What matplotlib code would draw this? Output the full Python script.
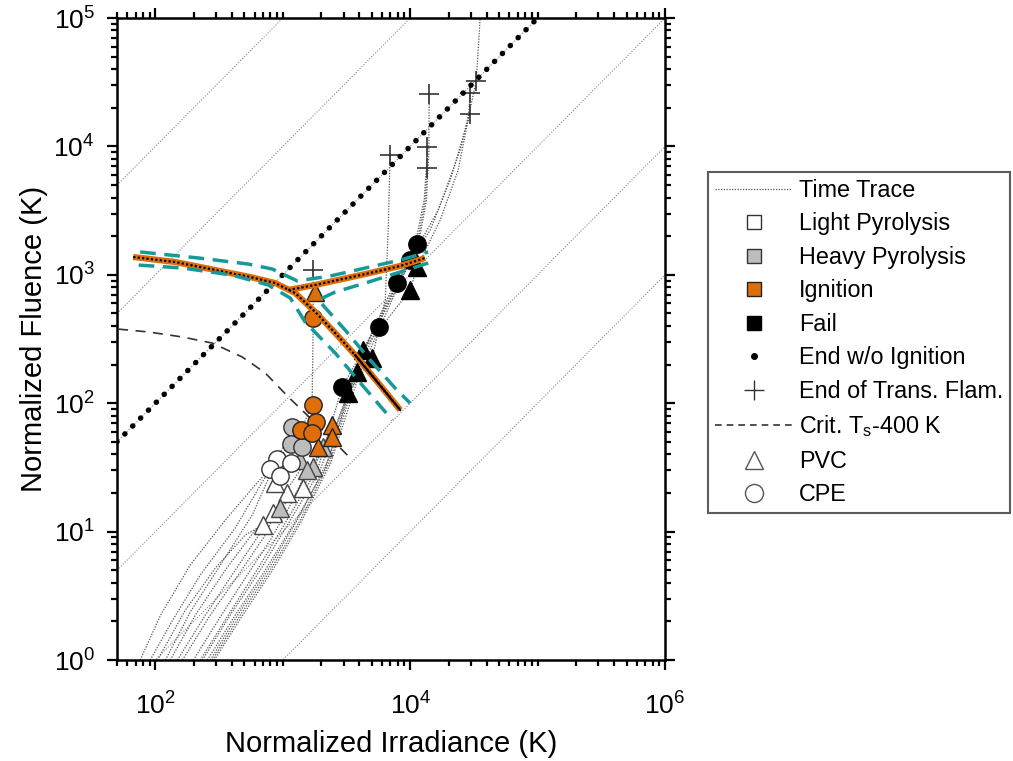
import numpy as np
import matplotlib
matplotlib.use('Agg')
import matplotlib.pyplot as plt
from matplotlib.lines import Line2D
from matplotlib.ticker import LogLocator, NullFormatter

plt.rcParams['font.family'] = ['Liberation Sans', 'DejaVu Sans']
plt.rcParams['mathtext.fontset'] = 'custom'
plt.rcParams['mathtext.rm'] = 'Liberation Sans'
plt.rcParams['mathtext.it'] = 'Liberation Sans:italic'

# colours
c_ign = '#DF6E0A'
c_heavy = '#BDBDBD'
c_teal = '#16999A'
c_trace = '#555555'

# constant-time guide lines (fluence = irradiance * t)
time_consts = [100, 10, 1, 0.1, 0.01, 0.001]
guide_x = [50, 1e6]

# time traces (irradiance, fluence)
traces = [
    ([104, 172, 296, 508, 703], [1, 2.45, 5.21, 9.42, 11.3]),
    ([131, 206, 354, 608, 841, 1084], [1, 2.24, 5.02, 10.3, 14.2, 20]),
    ([149, 247, 424, 691, 955, 1449, 2078, 2444], [1, 2.24, 5.02, 10.3, 15.3, 22, 46, 68]),
    ([163, 270, 464, 729, 1009, 1371, 1733, 2444], [1, 2.24, 4.84, 9.42, 19.3, 30.2, 32, 55]),
    ([199, 312, 508, 798, 1146, 1557, 2358, 3266, 4276, 7900, 10000, 16590, 24700, 30600, 33000, 35400],
     [1, 2.05, 4.36, 8.61, 16.1, 30.2, 51.7, 120, 259, 863, 1300, 3200, 9380, 23000, 32300, 1e5]),
    ([76, 110, 188, 354, 608, 798, 1146, 1390, 1700, 1733, 1733],
     [1, 2.24, 5.5, 12.3, 23.1, 31, 48, 62, 97, 461, 1090]),
    ([120, 188, 335, 577, 906, 1190], [1, 2.37, 5.8, 13.5, 37, 65]),
    ([91, 137, 225, 424, 798], [1, 2.05, 4.59, 10.7, 31]),
    ([234, 387, 666, 1146, 1967, 3266, 5035, 5710, 6370, 6720, 6960],
     [1, 2.24, 5.02, 12.3, 30.2, 120, 225, 392, 637, 2230, 8570]),
    ([280, 464, 798, 1371, 2358, 3841, 7900, 11350, 13120, 13600],
     [1, 2.24, 5.02, 12.3, 36.1, 175, 863, 1740, 3830, 6800]),
    ([270, 450, 780, 1330, 2300, 3700, 7600, 11000, 12900, 13400, 13600],
     [1, 2.3, 5.2, 12.8, 37, 180, 880, 1760, 3900, 7000, 9900]),
    ([290, 480, 820, 1400, 2400, 4000, 8200, 11600, 13400, 14000, 14100],
     [1, 2.2, 4.9, 12, 35, 170, 850, 1720, 3800, 9000, 25600]),
    ([256, 424, 729, 1253, 2154, 4276, 10000, 11350, 17200, 23800, 28500, 29600],
     [1, 2.24, 5.02, 12.0, 31, 259, 762, 1150, 2670, 6540, 16100, 26000]),
    ([225, 374, 643, 1104, 1897, 2929, 5820, 10000, 14350, 20600, 27000, 29600],
     [1, 2.24, 5.21, 12.8, 31.5, 134, 444, 1280, 2230, 5470, 13400, 17900]),
]

# markers: (irradiance, fluence)
pvc_light_x = [1084, 1449, 873, 841, 703]
pvc_light_y = [20, 22, 24, 14, 11.3]
pvc_heavy_x = [2078, 1733, 1371, 955, 1557]
pvc_heavy_y = [46, 32, 36, 15.3, 30]
pvc_ign_x = [1800, 2444, 2444, 1900]
pvc_ign_y = [735, 68, 55, 46]
pvc_fail_x = [11350, 10000, 4276, 5035, 3841, 3266]
pvc_fail_y = [1150, 762, 259, 225, 175, 120]

cpe_light_x = [906, 1170, 798, 955]
cpe_light_y = [37, 34, 31, 27]
cpe_heavy_x = [1190, 1150, 1420]
cpe_heavy_y = [65, 48, 46]
cpe_ign_x = [1730, 1730, 1830, 1400, 1700]
cpe_ign_y = [461, 97, 71, 62, 59]
cpe_fail_x = [11350, 10000, 7900, 5710, 2930]
cpe_fail_y = [1740, 1300, 863, 392, 134]

flam_x = [6960, 14100, 13600, 13600, 33000, 29500, 29500, 1730]
flam_y = [8570, 25600, 9900, 6800, 32300, 26000, 17900, 1090]

# critical surface temperature curve
crit_x = [51, 88, 163, 280, 481, 729, 1104, 1703, 2444, 3510]
crit_y = [378, 359, 328, 294, 229, 172, 112, 74, 52, 36]

# ignition fit: main branch and ascending branch
fit_x = [67, 143, 296, 556, 873, 1253, 1800, 2580, 3700, 5610, 8350]
fit_y = [1377, 1259, 1089, 961, 863, 721, 513, 352, 237, 144, 88.5]
fit2_x = [1105, 1800, 4440, 8350, 13100]
fit2_y = [762, 834, 1014, 1172, 1353]
fit_solid_x = [3700, 8350]
fit_solid_y = [237, 88.5]

# confidence bands
band1_x = [76, 217, 535, 828, 1300, 2360, 4440, 8350, 13840]
band1_y = [1507, 1353, 1214, 1109, 896, 979, 1130, 1303, 1507]
band2_x = [74, 163, 402, 769, 1146, 1500, 2580, 4060, 7230]
band2_y = [1191, 1130, 995, 834, 659, 428, 246, 144, 74]
band3_x = [13840, 8350, 4440, 2580, 1900, 3090, 4850, 7620, 10000]
band3_y = [1236, 1052, 863, 735, 637, 371, 217, 131, 100]

fig = plt.figure(figsize=(10.13, 7.61), dpi=100)
ax = fig.add_axes([0.1155, 0.1327, 0.541, 0.8436])
ax.set_xscale('log')
ax.set_yscale('log')

gx = np.array(guide_x)
for c in time_consts:
    ax.plot(gx, gx * c, color='#888888', lw=0.8, ls=(0, (1, 1.5)), zorder=1)

ax.plot(gx, gx, color='black', lw=4.0, ls=(0, (0.01, 2.0)), dash_capstyle='round', zorder=6)

for tx, ty in traces:
    ax.plot(tx, ty, color=c_trace, lw=0.9, ls=(0, (1, 1.2)), zorder=2)

ax.plot(crit_x, crit_y, color='#333333', lw=1.2, ls=(0, (6, 4.5)), zorder=3)

ms = 12.5
def pts(x, y, m, fc, ec, z=4):
    ax.plot(x, y, ls='none', marker=m, ms=ms, mfc=fc, mec=ec, mew=1.0, zorder=z)

pts(pvc_light_x, pvc_light_y, '^', 'white', '#444444')
pts(pvc_heavy_x, pvc_heavy_y, '^', c_heavy, '#444444')
pts(cpe_light_x, cpe_light_y, 'o', 'white', '#333333')
pts(cpe_heavy_x, cpe_heavy_y, 'o', c_heavy, '#333333')
pts(pvc_ign_x, pvc_ign_y, '^', c_ign, '#222222')
pts(cpe_ign_x, cpe_ign_y, 'o', c_ign, '#222222')
pts(pvc_fail_x, pvc_fail_y, '^', 'black', 'black')
pts(cpe_fail_x, cpe_fail_y, 'o', 'black', 'black')

ax.plot(flam_x, flam_y, ls='none', marker='+', ms=15, mew=1.2, color='#333333', zorder=5)

# fit lines
for fx, fy in [(fit_x, fit_y), (fit2_x, fit2_y)]:
    ax.plot(fx, fy, color=c_ign, lw=4.5, solid_capstyle='butt', zorder=7)
    ax.plot(fx, fy, color='black', lw=1.6, ls=(0, (1, 1)), zorder=8)
ax.plot(fit_solid_x, fit_solid_y, color='black', lw=1.5, zorder=8)
for bx, by in [(band1_x, band1_y), (band2_x, band2_y), (band3_x, band3_y)]:
    ax.plot(bx, by, color=c_teal, lw=2.5, ls=(0, (4.5, 2.5)), zorder=8)

ax.set_xlim(50, 1e6)
ax.set_ylim(1, 1e5)
ax.set_xticks([1e2, 1e4, 1e6])
ax.xaxis.set_minor_locator(LogLocator(base=10, subs=np.arange(1, 10), numticks=20))
ax.yaxis.set_major_locator(LogLocator(base=10, numticks=10))
ax.yaxis.set_minor_locator(LogLocator(base=10, subs=np.arange(2, 10), numticks=20))
ax.xaxis.set_minor_formatter(NullFormatter())
ax.yaxis.set_minor_formatter(NullFormatter())
ax.tick_params(which='both', direction='out', top=True, right=True, width=1.6, labelsize=19)
ax.tick_params(which='major', length=7)
ax.tick_params(which='minor', length=4)
ax.tick_params(axis='x', which='major', pad=16)
ax.tick_params(axis='y', which='major', pad=9)
for s in ax.spines.values():
    s.set_linewidth(1.8)

ax.set_xlabel('Normalized Irradiance (K)', fontsize=21, labelpad=8)
ax.set_ylabel('Normalized Fluence (K)', fontsize=21, labelpad=4)

handles = [
    Line2D([], [], color=c_trace, lw=0.9, ls=(0, (1, 1.2))),
    Line2D([], [], ls='none', marker='s', ms=10, mfc='white', mec='#333333'),
    Line2D([], [], ls='none', marker='s', ms=10, mfc=c_heavy, mec='#333333'),
    Line2D([], [], ls='none', marker='s', ms=10, mfc=c_ign, mec='#222222'),
    Line2D([], [], ls='none', marker='s', ms=10, mfc='black', mec='black'),
    Line2D([], [], ls='none', marker='o', ms=4, color='black'),
    Line2D([], [], ls='none', marker='+', ms=15, mew=1.0, color='#333333'),
    Line2D([], [], color='#333333', lw=1.2, ls=(0, (4, 3))),
    Line2D([], [], ls='none', marker='^', ms=13, mfc='white', mec='#555555'),
    Line2D([], [], ls='none', marker='o', ms=13, mfc='white', mec='#555555'),
]
labels = ['Time Trace', 'Light Pyrolysis', 'Heavy Pyrolysis', 'Ignition', 'Fail',
          'End w/o Ignition', 'End of Trans. Flam.', r'Crit. T$_\mathrm{s}$-400 K', 'PVC', 'CPE']
leg = fig.legend(handles, labels, loc='upper left', bbox_to_anchor=(0.699, 0.774),
                 fontsize=16.8, frameon=True, fancybox=False, edgecolor='#333333',
                 handlelength=3.3, handletextpad=0.3, labelspacing=0.45, borderpad=0.3,
                 borderaxespad=0)
leg.get_frame().set_linewidth(1.5)

fig.savefig('out.png', dpi=100)
